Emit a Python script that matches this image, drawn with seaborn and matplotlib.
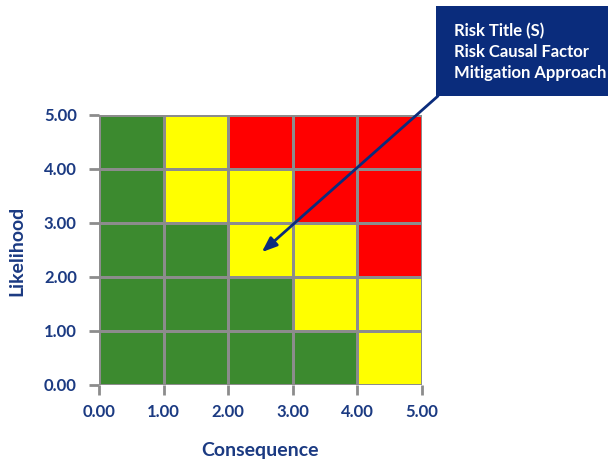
import matplotlib
matplotlib.use("Agg")
import matplotlib.pyplot as plt
from matplotlib.colors import ListedColormap
from matplotlib.patches import Rectangle
import numpy as np
import seaborn as sns

# Risk level per cell: 0 = low (green), 1 = medium (yellow), 2 = high (red)
# Rows are likelihood bands from 0-1 up to 4-5, columns are consequence bands.
likelihood_0_1 = [0, 0, 0, 0, 1]
likelihood_1_2 = [0, 0, 0, 1, 1]
likelihood_2_3 = [0, 0, 1, 1, 2]
likelihood_3_4 = [0, 1, 1, 2, 2]
likelihood_4_5 = [0, 1, 2, 2, 2]

tick_values = [0, 1, 2, 3, 4, 5]
tick_labels = ["0.00", "1.00", "2.00", "3.00", "4.00", "5.00"]
callout_lines = ["Risk Title (S)", "Risk Causal Factor", "Mitigation Approach"]
risk_point = (2.52, 2.46)

risk_grid = np.array([likelihood_0_1, likelihood_1_2, likelihood_2_3,
                      likelihood_3_4, likelihood_4_5])

navy = "#1B3A82"
grid_gray = "#8C8C8C"
cmap = ListedColormap(["#3C8A2F", "#FFFF00", "#FF0000"])

sns.set_style("white")
plt.rcParams["font.family"] = ["Lato", "DejaVu Sans"]

fig = plt.figure(figsize=(6.08, 4.64), dpi=100)
ax = fig.add_axes([99 / 608, 1 - 386 / 464, 323 / 608, 270 / 464])

sns.heatmap(risk_grid, ax=ax, cmap=cmap, vmin=-0.5, vmax=2.5, cbar=False,
            linewidths=2, linecolor=grid_gray, square=False)

ax.set_ylim(0, 5)
ax.set_xlim(0, 5)
ax.set_xticks(tick_values)
ax.set_xticklabels(tick_labels, rotation=0)
ax.set_yticks(tick_values)
ax.set_yticklabels(tick_labels, rotation=0)
for spine in ax.spines.values():
    spine.set_visible(False)

ax.tick_params(axis="both", which="both", length=7, width=2, color=grid_gray,
               labelsize=12, labelcolor=navy, pad=6,
               bottom=True, left=True)
ax.tick_params(axis="y", pad=9)
for lbl in ax.get_xticklabels() + ax.get_yticklabels():
    lbl.set_fontweight("bold")

ax.set_xlabel("Consequence", fontsize=14, fontweight="bold", color=navy, labelpad=16)
ax.set_ylabel("Likelihood", fontsize=14, fontweight="bold", color=navy, labelpad=13)

# Callout box
box = Rectangle((436 / 608, 1 - 97 / 464), 172 / 608, 90 / 464,
                transform=fig.transFigure, facecolor="#0A2C7C",
                edgecolor="none", zorder=5)
fig.patches.append(box)
for i, line in enumerate(callout_lines):
    fig.text(454 / 608, 1 - (31 + 21 * i) / 464, line, color="white",
             fontsize=12, fontweight="bold", va="center", ha="left", zorder=6)

# Arrow from the callout to the risk position
ax.annotate("", xy=risk_point, xycoords="data",
            xytext=(438 / 608, 1 - 97 / 464), textcoords="figure fraction",
            arrowprops=dict(arrowstyle="-|>,head_length=0.9,head_width=0.35",
                            color="#0A2C7C", lw=2, shrinkA=0, shrinkB=0),
            annotation_clip=False, zorder=7)

fig.savefig("out.png", dpi=100)
